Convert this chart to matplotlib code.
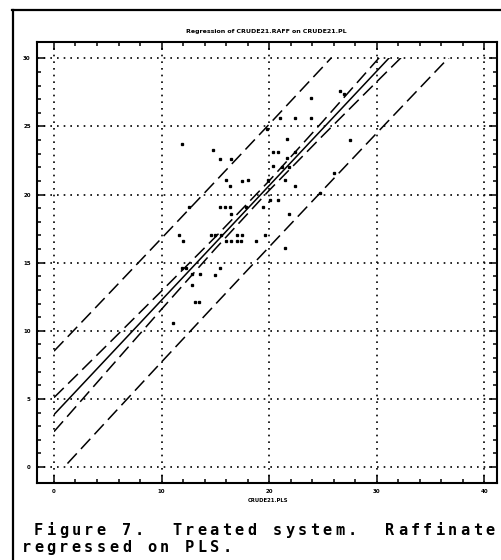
import numpy as np
import matplotlib
matplotlib.use("Agg")
import matplotlib.pyplot as plt
from matplotlib.lines import Line2D
from matplotlib.patches import Rectangle

# ---------------- data ----------------
pls_x = [26.6, 27.0, 23.9, 27.5,
         21.0, 22.4, 23.9, 19.8,
         21.7, 20.4, 20.8, 22.4, 21.7,
         15.4, 16.5, 14.8, 11.9,
         20.4, 21.2, 21.9,
         16.0, 17.5, 18.0, 16.4, 19.9, 21.5, 22.4, 26.0, 24.7,
         20.1, 20.8, 12.6, 15.4, 15.9, 16.4, 17.9, 19.4, 16.5, 21.9,
         12.0, 11.6, 14.6, 15.0, 15.5, 16.0, 16.5, 17.0, 17.4, 18.8, 19.6, 17.0, 17.5, 21.5,
         11.9, 12.3, 12.8, 13.6, 15.0, 15.4, 12.8, 13.1, 13.5, 11.1]
raff_y = [27.6, 27.4, 27.1, 24.0,
          25.6, 25.6, 25.6, 24.8,
          24.1, 23.1, 23.1, 23.1, 22.7,
          22.6, 22.6, 23.3, 23.7,
          22.1, 22.0, 22.0,
          21.1, 21.0, 21.1, 20.6, 21.1, 21.1, 20.6, 21.6, 20.1,
          19.6, 19.6, 19.1, 19.1, 19.1, 19.1, 19.1, 19.1, 18.6, 18.6,
          16.6, 17.0, 17.0, 17.0, 17.0, 16.6, 16.6, 16.6, 16.6, 16.6, 17.0, 17.0, 17.0, 16.1,
          14.6, 14.6, 14.2, 14.2, 14.1, 14.6, 13.4, 12.1, 12.1, 10.6]

# regression line and bands, read at these x positions
band_x       = [0, 5, 10, 15, 20, 25, 30, 35, 40]
fit_y        = [3.85, 8.05, 12.25, 16.45, 20.65, 24.85, 29.05, 33.25, 37.45]
conf_upper_y = [5.10, 9.00, 12.92, 16.88, 21.00, 25.37, 29.83, 34.32, 38.82]
conf_lower_y = [2.60, 7.10, 11.58, 16.02, 20.30, 24.33, 28.27, 32.18, 36.08]
pred_upper_y = [8.51, 12.64, 16.79, 20.96, 25.15, 29.37, 33.60, 37.86, 42.14]
pred_lower_y = [-0.81, 3.46, 7.71, 11.94, 16.15, 20.33, 24.50, 28.64, 32.76]

x_ticks = [0, 10, 20, 30, 40]
y_ticks = [0, 5, 10, 15, 20, 25, 30]

title_text = "Regression of CRUDE21.RAFF on CRUDE21.PL"
xlabel_text = "CRUDE21.PLS"
caption_lines = [" Figure 7.  Treated system.  Raffinate",
                 "regressed on PLS."]

# ---------------- figure ----------------
W, H = 502, 560
fig = plt.figure(figsize=(W / 100, H / 100), dpi=100)
fig.patch.set_facecolor("white")

ax = fig.add_axes([37 / W, 1 - 483 / H, (497 - 37) / W, (483 - 42) / H])
ax.set_xlim(-1.58, 41.2)
ax.set_ylim(-1.17, 31.2)

# grid
ax.set_xticks(x_ticks)
ax.set_yticks(y_ticks)
ax.set_xticks(np.arange(0, 41, 2), minor=True)
ax.set_yticks(np.arange(0, 31, 1), minor=True)
ax.grid(True, which="major", color="black", linestyle=(0, (1, 3)), linewidth=1.2)
ax.set_axisbelow(True)

ax.tick_params(which="both", direction="in", top=True, right=True,
               color="black", width=1.1)
ax.tick_params(which="major", length=6, labelsize=4, pad=4.5)
ax.tick_params(which="minor", length=3)
for lab in ax.get_xticklabels() + ax.get_yticklabels():
    lab.set_fontweight("bold")
for sp in ax.spines.values():
    sp.set_linewidth(1.5)
    sp.set_color("black")

clip = Rectangle((0, 0), 40, 30, transform=ax.transData, visible=False)
ax.add_patch(clip)

dash = (0, (9, 4))
for ys in (pred_upper_y, pred_lower_y, conf_upper_y, conf_lower_y):
    ln, = ax.plot(band_x, ys, color="black", linewidth=1.1, linestyle=dash)
    ln.set_clip_path(clip)
ln, = ax.plot(band_x, fit_y, color="black", linewidth=1.1, linestyle="-")
ln.set_clip_path(clip)

ax.plot(pls_x, raff_y, linestyle="none", marker="s", markersize=1.4,
        color="black")

fig.text(266 / W, 1 - 31 / H, title_text, ha="center", va="center",
         fontsize=4.5, fontweight="bold")
fig.text(268 / W, 1 - 500 / H, xlabel_text, ha="center", va="center",
         fontsize=3.8, fontweight="bold")

# outer frame
fig.add_artist(Line2D([13 / W, 13 / W], [0, 1 - 10 / H], color="black",
                      linewidth=1.6, transform=fig.transFigure))
fig.add_artist(Line2D([12 / W, 1], [1 - 10 / H, 1 - 10 / H], color="black",
                      linewidth=1.6, transform=fig.transFigure))

# caption (typewriter spacing)
cap_left = 20
cap_step = 12.55
baselines = [535.0, 552.0]
for line, base in zip(caption_lines, baselines):
    for i, ch in enumerate(line):
        if ch == " ":
            continue
        fig.text((cap_left + i * cap_step + 1.5) / W, 1 - base / H, ch,
                 ha="left", va="baseline", family="DejaVu Sans Mono",
                 fontweight="bold", fontsize=11)

fig.savefig("out.png", dpi=100, facecolor="white")
